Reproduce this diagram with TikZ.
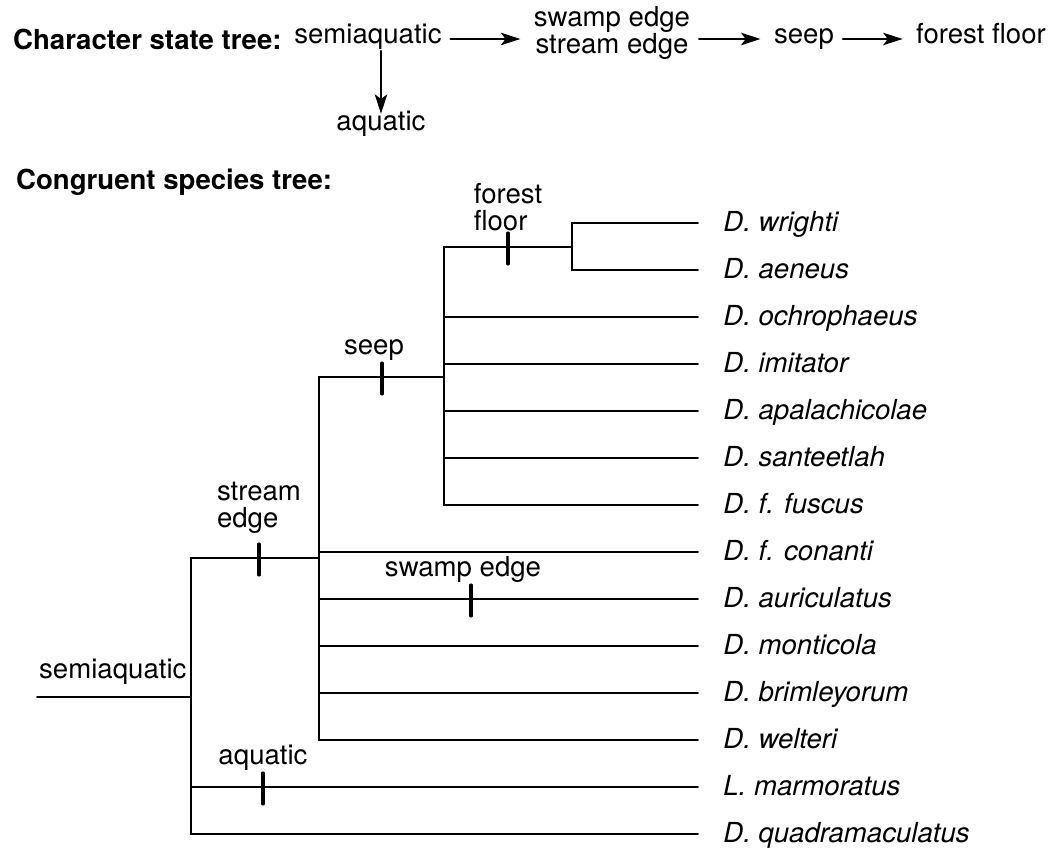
\documentclass[tikz,border=0pt]{standalone}
\usepackage{fontspec}
\setmainfont{TeX Gyre Heros}
\usetikzlibrary{calc,arrows.meta,positioning}
\newcommand\treefont{\fontsize{15.7}{15.2}\selectfont}
\tikzset{
  heading/.style={anchor=base west,font=\treefont\bfseries},
  state/.style={inner sep=2pt,text height=1.4ex,text depth=.4ex},
  flow/.style={line width=1.6pt,shorten <=3pt,shorten >=5.5pt,
               -{Stealth[length=11pt,width=7pt,inset=2.5pt]}},
  branch/.style={line width=1.1pt},
  tick/.style={line width=1.8pt},
  leaf/.style={anchor=west,inner xsep=0.5cm,inner ysep=0pt,
               text height=1em,text depth=0pt,font=\treefont\itshape},
  marklabel/.style={anchor=south,align=left,inner sep=1pt},
}

\begin{document}
\begin{tikzpicture}[x=0.02cm,y=-0.02cm,font=\treefont,line cap=round]
  \useasboundingbox (0,0) rectangle (1051,854);

  % character state tree
  \node[heading] (cst) at (7,50) {Character state tree:};
  \node[state] (semi) at (368,39) {semiaquatic};
  \node[align=center,inner sep=2pt] (edges) at (612,33) {swamp edge\\stream edge};
  \node[state] (seep) at (804,39) {seep};
  \node[state] (floor) at (981,39) {forest floor};
  \node[state] (aq) at (381,126) {aquatic};
  \draw[flow] (semi.east) -- (semi.east -| edges.west);
  \draw[flow] (edges.east |- seep.west) -- (seep.west);
  \draw[flow] (seep) -- (floor);
  \draw[flow,shorten <=0pt,shorten >=0pt] (semi.south -| aq.north) -- (aq.north);

  % species tree
  \node[heading] (cgt) at (10,190) {Congruent species tree:};
  \coordinate (root) at (37,697);
  \coordinate (n1) at (191,697);
  \coordinate (n2) at (319,558);
  \coordinate (n3) at (444,377);
  \coordinate (n4) at (572,247);

  \foreach \name/\txt [count=\i from 0] in {wrighti/D. wrighti, aeneus/D. aeneus,
      ochrophaeus/D. ochrophaeus, imitator/D. imitator, apalachicolae/D. apalachicolae,
      santeetlah/D. santeetlah, fuscus/D. f. fuscus, conanti/D. f. conanti,
      auriculatus/D. auriculatus, monticola/D. monticola, brimleyorum/D. brimleyorum,
      welteri/D. welteri, marmoratus/L. marmoratus, quadramaculatus/D. quadramaculatus}
    \node[leaf] (\name) at (698,223+47*\i) {\txt};

  \draw[branch] (root) -- (n1);
  \foreach \t in {n2,marmoratus.west,quadramaculatus.west}
    \draw[branch] (n1) |- (\t);
  \foreach \t in {n3,conanti.west,auriculatus.west,monticola.west,brimleyorum.west,welteri.west}
    \draw[branch] (n2) |- (\t);
  \foreach \t in {n4,ochrophaeus.west,imitator.west,apalachicolae.west,santeetlah.west,fuscus.west}
    \draw[branch] (n3) |- (\t);
  \foreach \t in {wrighti.west,aeneus.west}
    \draw[branch] (n4) |- (\t);

  % state changes on the branches
  \coordinate (tfloor) at (508,247);
  \coordinate (tseep) at (382,377);
  \coordinate (tstream) at (259,558);
  \coordinate (tswamp) at (471,599);
  \coordinate (taquatic) at (263,787);
  \foreach \t in {tfloor,tseep,tstream,tswamp,taquatic}
    \draw[tick] ($(\t)+(0,-14)$) -- ($(\t)+(0,17)$);

  \node[marklabel] (lfloor) at ($(tfloor)+(0,-14)$) {forest\\floor};
  \node[marklabel,xshift=-0.16cm] (lseep) at ($(tseep)+(0,-14)$) {seep};
  \node[marklabel,above=5pt] (lstream) at ($(tstream)+(0,-14)$) {stream\\edge};
  \node[marklabel,xshift=-0.16cm] (lswamp) at ($(tswamp)+(0,-14)$) {swamp edge};
  \node[marklabel] (laquatic) at ($(taquatic)+(0,-14)$) {aquatic};
  \node[anchor=base west] (lroot) at (33,678) {semiaquatic};
\end{tikzpicture}
\end{document}
